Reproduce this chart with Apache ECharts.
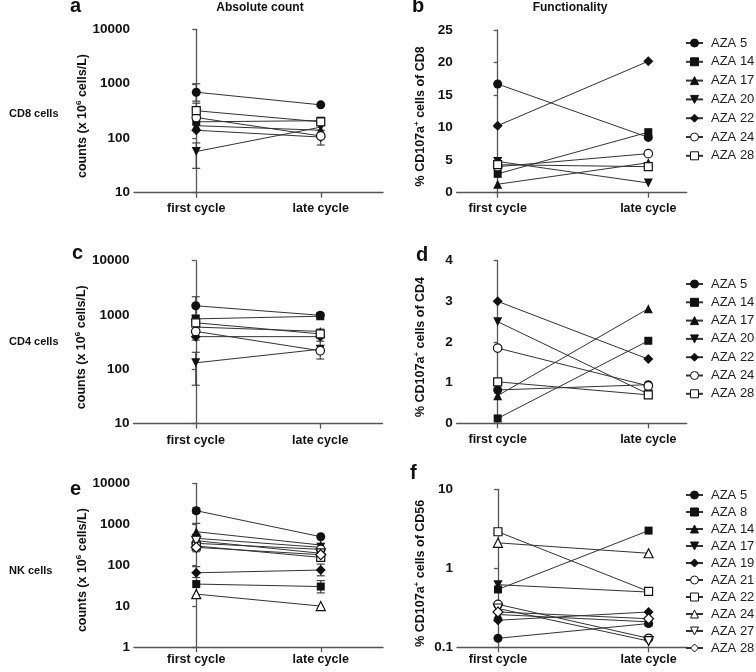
<!DOCTYPE html>
<html><head><meta charset="utf-8">
<script src="https://cdn.jsdelivr.net/npm/echarts@6/dist/echarts.min.js"></script>
<style>html,body{margin:0;padding:0;background:#fff}#c{width:756px;height:672px}</style>
</head><body><div id="c"></div>
<script>
// ---------- data ----------
const categories = ['first cycle', 'late cycle'];
const patientsCD = ['AZA 5', 'AZA 14', 'AZA 17', 'AZA 20', 'AZA 22', 'AZA 24', 'AZA 28'];
const patientsNK = ['AZA 5', 'AZA 8', 'AZA 14', 'AZA 17', 'AZA 19', 'AZA 21', 'AZA 22', 'AZA 24', 'AZA 27', 'AZA 28'];

// [first cycle, late cycle] per patient
const cd8Count = [[700, 410], [200, 210], [170, 140], [57, 160], [140, 105], [240, 110], [320, 200]];
const cd8Func  = [[16.7, 8.5], [2.9, 9.3], [1.3, 4.6], [4.8, 1.5], [10.3, 20.2], [4.0, 6.0], [4.3, 4.0]];
const cd4Count = [[1480, 990], [850, 950], [600, 500], [132, 235], [400, 400], [500, 220], [720, 450]];
const cd4Func  = [[0.82, 0.95], [0.12, 2.03], [0.68, 2.82], [2.5, 0.72], [3.0, 1.58], [1.85, 0.92], [1.02, 0.70]];
const nkCount  = [[2140, 495], [34.5, 30], [656, 310], [452, 272], [65, 76], [341, 243], [293, 155], [19.6, 10], [395, 195], [272, 180]];
const nkFunc   = [[0.13, 0.20], [0.54, 3.0], [0.26, 0.21], [0.62, 0.50], [0.22, 0.28], [0.35, 0.13], [2.9, 0.51], [2.1, 1.55], [0.31, 0.12], [0.28, 0.23]];

// error bars: [category index, low, high]
const cd8CountErr = [[0, 480, 1000], [0, 230, 440], [0, 28, 82], [1, 75, 140]];
const cd4CountErr = [[0, 1000, 2170], [0, 345, 460], [0, 51, 206], [1, 155, 330], [1, 440, 550]];
const nkCountErr  = [[0, 1850, 2500], [0, 400, 1050], [0, 213, 300], [0, 50, 92], [1, 55, 106], [1, 21, 42], [1, 133, 250]];

// ---------- styles ----------
const FONT = 'Liberation Sans, Arial, Helvetica, sans-serif';
const M = (symbol, fill, size, rotate) => ({ symbol, fill, size, rotate: rotate || 0 });
const markersCD = [M('circle', 1, 9), M('rect', 1, 8), M('triangle', 1, 9), M('triangle', 1, 9, 180), M('diamond', 1, 10), M('circle', 0, 8.5), M('rect', 0, 8)];
const markersNK = [M('circle', 1, 9), M('rect', 1, 8), M('triangle', 1, 9), M('triangle', 1, 9, 180), M('diamond', 1, 10),
                   M('circle', 0, 8.5), M('rect', 0, 8), M('triangle', 0, 9), M('triangle', 0, 9, 180), M('diamond', 0, 10)];

const countName = '{m|counts (x 10}{s|6}{m| cells/L)}';
const pctName = (c) => '{m|% CD107a}{s|+}{m| cells of ' + c + '}';

const panels = [
  { id: 'a', grid: { left: 134, top: 29.3, width: 249, height: 163.4 }, log: true, min: 10, max: 10000, names: patientsCD, values: cd8Count, markers: markersCD, err: cd8CountErr, yname: countName, nameGap: 44, xr: [-0.5, 1.5], lm: 9 },
  { id: 'b', grid: { left: 456.7, top: 30, width: 230, height: 162.7 }, log: false, min: 0, max: 25, interval: 5, names: patientsCD, values: cd8Func, markers: markersCD, yname: pctName('CD8'), nameGap: 29, xr: [-0.272, 1.255], lm: 9, legendTop: 31, legendGap: 4.8 },
  { id: 'c', grid: { left: 133.5, top: 260.7, width: 249, height: 163 }, log: true, min: 10, max: 10000, names: patientsCD, values: cd4Count, markers: markersCD, err: cd4CountErr, yname: countName, nameGap: 44, xr: [-0.5, 1.5], lm: 10 },
  { id: 'd', grid: { left: 456.7, top: 260.7, width: 230, height: 162.6 }, log: false, min: 0, max: 4, interval: 1, names: patientsCD, values: cd4Func, markers: markersCD, yname: pctName('CD4'), nameGap: 29, xr: [-0.272, 1.255], lm: 10, legendTop: 272, legendGap: 4.3 },
  { id: 'e', grid: { left: 134, top: 483.3, width: 249, height: 163.7 }, log: true, min: 1, max: 10000, names: patientsNK, values: nkCount, markers: markersNK, err: nkCountErr, yname: countName, nameGap: 44, xr: [-0.5, 1.5], lm: 6 },
  { id: 'f', grid: { left: 457, top: 489.3, width: 230, height: 158 }, log: true, min: 0.1, max: 10, names: patientsNK, values: nkFunc, markers: markersNK, yname: pctName('CD56'), nameGap: 29, xr: [-0.272, 1.255], lm: 6, legendTop: 483, legendGap: 3 }
];

const AX = '#555';
const grids = [], xAxes = [], yAxes = [], series = [], legends = [];
panels.forEach((p, i) => {
  grids.push(Object.assign({ containLabel: false }, p.grid));
  xAxes.push({
    type: 'value', gridIndex: i, min: p.xr[0], max: p.xr[1],
    axisLine: { onZero: false, lineStyle: { color: AX, width: 1.3 } },
    axisTick: { show: true, length: 5, customValues: [0, 1], lineStyle: { color: AX, width: 1.3 } },
    axisLabel: { customValues: [0, 1], margin: p.lm, formatter: v => categories[Math.round(v)] || '',
                 color: '#111', fontFamily: FONT, fontWeight: 'bold', fontSize: 12.5 },
    splitLine: { show: false }
  });
  const y = {
    type: p.log ? 'log' : 'value', logBase: 10, gridIndex: i, min: p.min, max: p.max,
    axisLine: { show: true, lineStyle: { color: AX, width: 1.3 } },
    axisTick: { show: true, length: 4, lineStyle: { color: AX, width: 1.3 } },
    axisLabel: { margin: 4, color: '#111', fontFamily: FONT, fontWeight: 'bold', fontSize: 13.5,
                 formatter: v => String(Number(Number(v).toPrecision(4))) },
    splitLine: { show: false },
    name: p.yname, nameLocation: 'middle', nameRotate: 90, nameGap: p.nameGap,
    nameTextStyle: {
      padding: [0, 10, 0, 0],
      rich: {
        m: { fontFamily: FONT, fontWeight: 'bold', fontSize: 12.5, color: '#111', lineHeight: 15 },
        s: { fontFamily: FONT, fontWeight: 'bold', fontSize: 8, color: '#111', verticalAlign: 'top', lineHeight: 15 }
      }
    }
  };
  if (p.interval) y.interval = p.interval;
  yAxes.push(y);

  const legendNames = [];
  p.names.forEach((n, k) => {
    const mk = p.markers[k];
    const sname = p.id + '/' + n;
    legendNames.push(sname);
    series.push({
      type: 'line', name: sname, xAxisIndex: i, yAxisIndex: i,
      data: p.values[k].map((v, j) => [j, v]),
      symbol: mk.symbol, symbolSize: mk.size, symbolRotate: mk.rotate,
      lineStyle: { color: '#333', width: 1 },
      itemStyle: { color: mk.fill ? '#111' : '#fff', borderColor: '#111', borderWidth: mk.fill ? 0 : 1.2 },
      z: 3, animation: false, silent: true
    });
  });
  if (p.err) {
    series.push({
      type: 'custom', xAxisIndex: i, yAxisIndex: i, data: p.err, z: 1, silent: true, animation: false,
      encode: { x: 0, y: [1, 2] },
      renderItem: (params, api) => {
        const x = api.value(0), lo = api.value(1), hi = api.value(2);
        const a = api.coord([x, lo]), b = api.coord([x, hi]);
        const w = 4, st = { stroke: '#444', lineWidth: 1.2 };
        return { type: 'group', children: [
          { type: 'line', shape: { x1: a[0], y1: a[1], x2: b[0], y2: b[1] }, style: st },
          { type: 'line', shape: { x1: a[0] - w, y1: a[1], x2: a[0] + w, y2: a[1] }, style: st },
          { type: 'line', shape: { x1: b[0] - w, y1: b[1], x2: b[0] + w, y2: b[1] }, style: st }
        ] };
      }
    });
  }
  if (p.legendTop !== undefined) {
    legends.push({
      data: legendNames, orient: 'vertical', left: 680, top: p.legendTop,
      itemWidth: 17, itemHeight: 10, itemGap: p.legendGap, selectedMode: false,
      itemStyle: { borderWidth: 1 },
      formatter: n => n.split('/')[1],
      textStyle: { fontFamily: FONT, fontSize: 13, color: '#222', lineHeight: 14, padding: [0, 0, 0, 3] }
    });
  }
});

const T = (text, x, y, size, opts) => Object.assign({
  type: 'text', x, y,
  style: { text, fontFamily: FONT, fontWeight: 'bold', fontSize: size, fill: '#111', verticalAlign: 'middle', align: 'left' }
}, opts || {});
const centered = (el) => { el.style.align = 'center'; return el; };

const graphics = [
  T('a', 70, 6, 20), T('b', 412, 6, 20), T('c', 72, 253, 20), T('d', 416, 255, 20), T('e', 70, 489, 20), T('f', 410, 473, 20),
  centered(T('Absolute count', 260, 8, 12)), centered(T('Functionality', 570, 8, 12)),
  T('CD8 cells', 9, 113.5, 11), T('CD4 cells', 9, 342, 11), T('NK cells', 9, 571, 11)
];

const chart = echarts.init(document.getElementById('c'), null, { renderer: 'canvas' });
chart.setOption({
  animation: false,
  backgroundColor: '#fff',
  grid: grids, xAxis: xAxes, yAxis: yAxes, series, legend: legends,
  graphic: { elements: graphics }
});
</script></body></html>
